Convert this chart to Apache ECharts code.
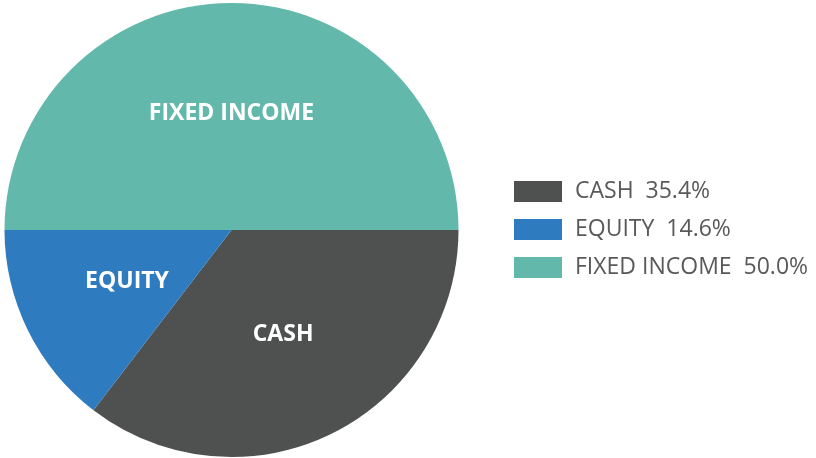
<!DOCTYPE html>
<html>
<head>
<meta charset="utf-8">
<script src="https://cdn.jsdelivr.net/npm/echarts@6/dist/echarts.min.js"></script>
<style>
  html, body { margin: 0; padding: 0; background: #fff; }
  #chart { width: 816px; height: 458px; }
</style>
</head>
<body>
<div id="chart"></div>
<script>
var categories = ['CASH', 'EQUITY', 'FIXED INCOME'];
var shares = [35.4, 14.6, 50.0];
var colors = ['#4f5150', '#2e7bbf', '#62b8ab'];

var chart = echarts.init(document.getElementById('chart'));

chart.setOption({
  animation: false,
  color: colors,
  legend: {
    orient: 'vertical',
    left: 509,
    top: 175,
    icon: 'rect',
    itemWidth: 48,
    itemHeight: 21,
    itemGap: 15,
    data: categories,
    formatter: function (name) {
      var i = categories.indexOf(name);
      return name + '  ' + shares[i].toFixed(1) + '%';
    },
    textStyle: { color: '#595959', fontSize: 23, fontFamily: 'Open Sans', padding: [0, 0, 0, 8], lineHeight: 23 }
  },
  series: [{
    type: 'pie',
    center: [231.5, 230],
    radius: 227,
    startAngle: 0,
    clockwise: true,
    label: {
      position: 'inner',
      color: '#fff',
      fontSize: 23,
      fontWeight: 'bold',
      fontFamily: 'Open Sans',
      formatter: '{b}'
    },
    labelLine: { show: false },
    itemStyle: { borderWidth: 0 },
    emphasis: { disabled: true },
    data: categories.map(function (c, i) {
      return { name: c, value: shares[i] };
    })
  }]
});
</script>
</body>
</html>
